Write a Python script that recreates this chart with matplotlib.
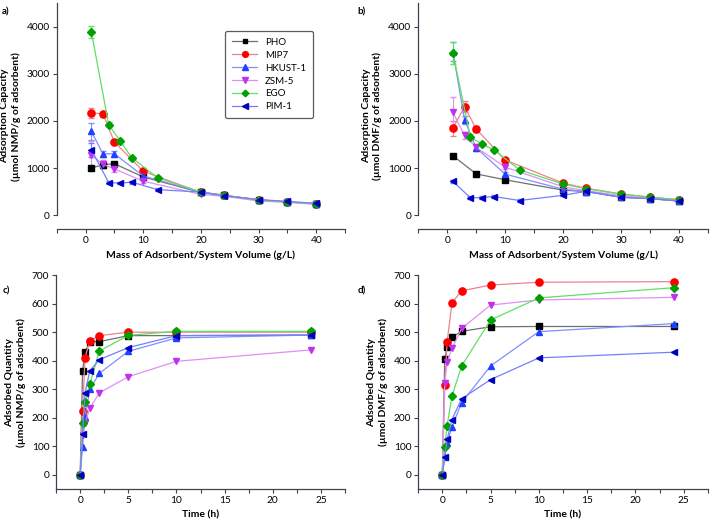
import numpy as np
import matplotlib
matplotlib.use('Agg')
import matplotlib.pyplot as plt
from matplotlib.ticker import MultipleLocator
from matplotlib.lines import Line2D

plt.rcParams['font.family'] = ['Lato', 'DejaVu Sans']
plt.rcParams['font.size'] = 6.5

names = ['PHO', 'MIP7', 'HKUST-1', 'ZSM-5', 'EGO', 'PIM-1']
markers = ['s', 'o', '^', 'v', 'D', '<']
mcolors = ['#000000', '#ff0000', '#2040ff', '#c030f0', '#00a000', '#0000c0']
lcolors = ['#707070', '#f08090', '#8090ff', '#e090f0', '#60e060', '#7080ff']
msizes = [4.2, 5.2, 5.0, 5.0, 4.2, 5.0]

# a) NMP capacity vs mass/volume (g/L)
a_x = {
    'PHO':     [1, 3, 5, 10, 20, 24, 30, 35, 40],
    'MIP7':    [1, 3, 5, 10, 20, 24, 30, 35, 40],
    'HKUST-1': [1, 3, 5, 10, 20, 24, 30, 35, 40],
    'ZSM-5':   [1, 3, 5, 10, 20, 24, 30, 35, 40],
    'EGO':     [1, 4, 6, 8, 12.5, 20, 24, 30, 35, 40],
    'PIM-1':   [1, 4, 6, 8, 12.5, 20, 24, 30, 35, 40],
}
a_y = {
    'PHO':     [1000, 1070, 1090, 810, 480, 420, 320, 280, 240],
    'MIP7':    [2170, 2150, 1550, 930, 480, 420, 330, 280, 240],
    'HKUST-1': [1775, 1300, 1300, 830, 490, 420, 320, 280, 240],
    'ZSM-5':   [1275, 1080, 980, 720, 440, 400, 300, 270, 230],
    'EGO':     [3890, 1920, 1570, 1220, 790, 490, 420, 320, 280, 240],
    'PIM-1':   [1390, 690, 680, 700, 540, 490, 410, 330, 290, 250],
}
a_err = {
    'PHO':     [40, 60, 40, 30, 20, 20, 20, 15, 15],
    'MIP7':    [100, 40, 50, 40, 20, 20, 20, 15, 15],
    'HKUST-1': [170, 60, 60, 40, 20, 20, 20, 15, 15],
    'ZSM-5':   [300, 80, 60, 40, 20, 20, 20, 15, 15],
    'EGO':     [120, 60, 50, 40, 30, 20, 20, 20, 15, 15],
    'PIM-1':   [150, 40, 30, 30, 30, 20, 20, 20, 15, 15],
}

# b) DMF capacity vs mass/volume (g/L)
b_x = {
    'PHO':     [1, 5, 10, 20, 24, 30, 35, 40],
    'MIP7':    [1, 3, 5, 10, 20, 24, 30, 35, 40],
    'HKUST-1': [1, 3, 5, 10, 20, 24, 30, 35, 40],
    'ZSM-5':   [1, 3, 5, 10, 20, 24, 30, 35, 40],
    'EGO':     [1, 4, 6, 8, 12.5, 20, 24, 30, 35, 40],
    'PIM-1':   [1, 4, 6, 8, 12.5, 20, 24, 30, 35, 40],
}
b_y = {
    'PHO':     [1260, 875, 750, 530, 500, 380, 350, 300],
    'MIP7':    [1845, 2300, 1830, 1170, 680, 570, 450, 380, 330],
    'HKUST-1': [3470, 2020, 1430, 870, 550, 500, 380, 350, 300],
    'ZSM-5':   [2180, 1690, 1440, 1020, 600, 520, 410, 360, 320],
    'EGO':     [3440, 1655, 1510, 1390, 960, 660, 560, 445, 385, 320],
    'PIM-1':   [715, 370, 370, 395, 310, 420, 505, 380, 350, 300],
}
b_err = {
    'PHO':     [40, 30, 30, 20, 20, 20, 15, 15],
    'MIP7':    [160, 120, 60, 50, 30, 20, 20, 15, 15],
    'HKUST-1': [200, 80, 60, 40, 20, 20, 20, 15, 15],
    'ZSM-5':   [330, 80, 60, 40, 30, 20, 20, 15, 15],
    'EGO':     [230, 60, 50, 40, 30, 20, 20, 20, 15, 15],
    'PIM-1':   [30, 30, 30, 30, 30, 20, 20, 20, 15, 15],
}

# c) NMP kinetics, d) DMF kinetics
t_h = [0, 0.25, 0.5, 1, 2, 5, 10, 24]
c_y = {
    'PHO':     [0, 363, 429, 467, 467, 488, 488, 490],
    'MIP7':    [0, 224, 410, 470, 488, 500, 500, 500],
    'HKUST-1': [0, 98, 202, 300, 356, 433, 480, 490],
    'ZSM-5':   [0, 140, 181, 233, 288, 344, 398, 438],
    'EGO':     [0, 182, 254, 318, 434, 489, 503, 503],
    'PIM-1':   [0, 142, 286, 365, 404, 446, 488, 490],
}
d_y = {
    'PHO':     [0, 407, 449, 483, 503, 519, 520, 520],
    'MIP7':    [0, 315, 467, 603, 645, 665, 675, 677],
    'HKUST-1': [0, 62, 111, 169, 253, 382, 502, 530],
    'ZSM-5':   [0, 321, 397, 443, 513, 595, 613, 622],
    'EGO':     [0, 99, 173, 277, 382, 543, 620, 656],
    'PIM-1':   [0, 64, 125, 194, 267, 334, 410, 430],
}

fig = plt.figure(figsize=(7.1, 5.21), dpi=100)
axa = fig.add_axes([0.080, 0.560, 0.406, 0.434])
axb = fig.add_axes([0.589, 0.560, 0.408, 0.434])
axc = fig.add_axes([0.079, 0.061, 0.407, 0.411])
axd = fig.add_axes([0.589, 0.061, 0.408, 0.411])

def style(ax):
    for s in ['top', 'right']:
        ax.spines[s].set_visible(False)
    for s in ['left', 'bottom']:
        ax.spines[s].set_color('#404050')
        ax.spines[s].set_linewidth(0.9)
    ax.tick_params(which='both', direction='out', length=3, width=0.8,
                   color='#404050', labelsize=7.3, pad=2)

def draw_capacity(ax, xs, ys, errs, ylabel):
    for i, n in enumerate(names):
        ax.errorbar(xs[n], ys[n], yerr=errs[n], color=lcolors[i], lw=0.9,
                    marker=markers[i], ms=msizes[i], mfc=mcolors[i], mec=mcolors[i],
                    ecolor=lcolors[i], elinewidth=0.8, capsize=2)
    ax.set_xlim(-5, 45)
    ax.set_ylim(-300, 4500)
    ax.xaxis.set_major_locator(MultipleLocator(10))
    ax.xaxis.set_minor_locator(MultipleLocator(5))
    ax.yaxis.set_major_locator(MultipleLocator(1000))
    ax.spines['left'].set_bounds(0, 4500)
    ax.set_xlabel('Mass of Adsorbent/System Volume (g/L)', fontweight='bold', fontsize=7.5)
    ax.set_ylabel(ylabel, fontweight='bold', fontsize=7.5, linespacing=1.3)
    style(ax)

def draw_kinetics(ax, ys, ylabel):
    for i, n in enumerate(names):
        ax.plot(t_h, ys[n], color=lcolors[i], lw=0.9, marker=markers[i],
                ms=msizes[i], mfc=mcolors[i], mec=mcolors[i])
    ax.set_xlim(-2.5, 27.5)
    ax.set_ylim(-50, 700)
    ax.xaxis.set_major_locator(MultipleLocator(5))
    ax.xaxis.set_minor_locator(MultipleLocator(2.5))
    ax.yaxis.set_major_locator(MultipleLocator(100))
    ax.set_xlabel('Time (h)', fontweight='bold', fontsize=7.5)
    ax.set_ylabel(ylabel, fontweight='bold', fontsize=7.5, linespacing=1.3)
    style(ax)

draw_capacity(axa, a_x, a_y, a_err, 'Adsorption Capacity\n(µmol NMP/g of adsorbent)')
draw_capacity(axb, b_x, b_y, b_err, 'Adsorption Capacity\n(µmol DMF/g of adsorbent)')
draw_kinetics(axc, c_y, 'Adsorbed Quantity\n(µmol NMP/g of adsorbent)')
draw_kinetics(axd, d_y, 'Adsorbed Quantity\n(µmol DMF/g of adsorbent)')

handles = [Line2D([], [], color=lcolors[i], lw=0.9, marker=markers[i], ms=msizes[i] * 0.8,
                  mfc=mcolors[i], mec=mcolors[i]) for i in range(len(names))]
leg = axa.legend(handles, names, loc='upper right', bbox_to_anchor=(0.906, 0.898), fontsize=7,
                 frameon=True, fancybox=True, handlelength=2.6, borderpad=0.7,
                 labelspacing=0.4, handletextpad=0.8)
leg.get_frame().set_edgecolor('#333333')
leg.get_frame().set_linewidth(0.9)

for lab, x, y in [('a)', 0.003, 0.985), ('b)', 0.503, 0.985), ('c)', 0.003, 0.45), ('d)', 0.503, 0.45)]:
    fig.text(x, y, lab, fontweight='bold', fontsize=7, va='top')

fig.savefig('out.png', dpi=100)
